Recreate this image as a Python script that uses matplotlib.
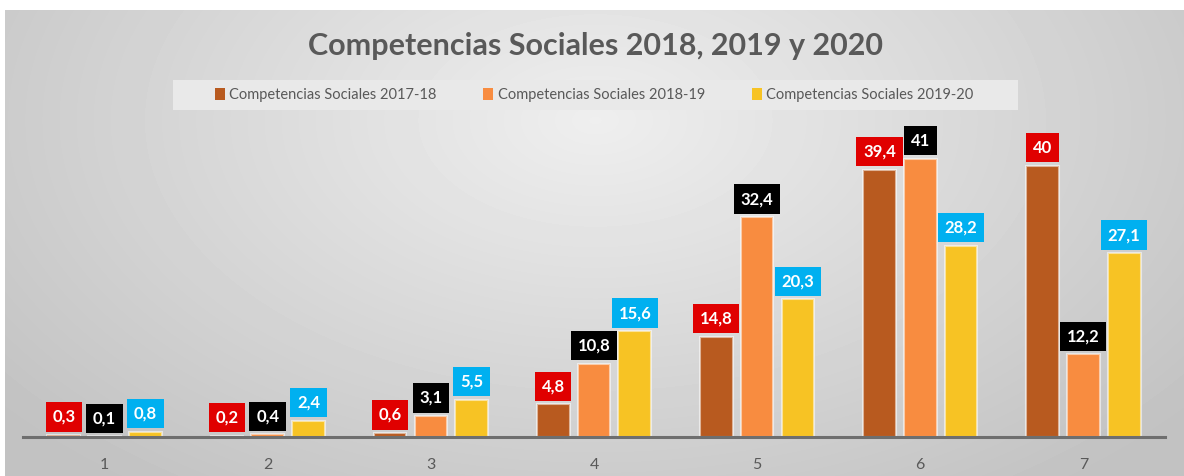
import numpy as np
import matplotlib.pyplot as plt
from matplotlib.patches import Rectangle

plt.rcParams['font.family'] = ['Lato', 'DejaVu Sans']

categories = ['1', '2', '3', '4', '5', '6', '7']
series_names = ['Competencias Sociales 2017-18',
                'Competencias Sociales 2018-19',
                'Competencias Sociales 2019-20']
values_1718 = [0.3, 0.2, 0.6, 4.8, 14.8, 39.4, 40]
values_1819 = [0.1, 0.4, 3.1, 10.8, 32.4, 41, 12.2]
values_1920 = [0.8, 2.4, 5.5, 15.6, 20.3, 28.2, 27.1]

bar_colors = ['#B85A1F', '#F88C40', '#F7C324']
label_colors = ['#E00000', '#000000', '#00B0F0']
TEXT = '#595959'

W, H = 1184, 476
fig = plt.figure(figsize=(W / 100, H / 100), dpi=100)
fig.patch.set_facecolor('white')

# radial grey background of the chart area
bg = fig.add_axes([5 / W, 0, 1 - 5 / W, 1 - 10 / H], zorder=-10)
yy, xx = np.mgrid[0:466, 0:1179]
r = np.sqrt(((xx - 590) / 700.0) ** 2 + ((yy - 110) / 420.0) ** 2)
shade = np.clip(0.935 - 0.16 * r, 0.76, 0.94)
bg.imshow(shade, cmap='gray', vmin=0, vmax=1, aspect='auto', interpolation='bilinear')
bg.axis('off')

# legend backdrop, a bit wider than the entries like in Excel
fig.patches.append(Rectangle((173 / W, 1 - 110 / H), 845 / W, 30 / H,
                             transform=fig.transFigure, fc='#E9E9E9', ec='none', zorder=-5))

ax = fig.add_axes([23 / W, 39 / H, 1142 / W, 327 / H])
ax.patch.set_alpha(0)

x = np.arange(1, len(categories) + 1)
width = 0.2
step = 0.25
series = [values_1718, values_1819, values_1920]
for i, vals in enumerate(series):
    pos = x + (i - 1) * step
    ax.bar(pos, vals, width, color=bar_colors[i], edgecolor=(1, 1, 1, 0.55),
           linewidth=1.5, label=series_names[i], zorder=3)
    for px, v in zip(pos, vals):
        ax.annotate(f"{v:g}".replace('.', ','), (px, v), xytext=(0, 13),
                    textcoords='offset points', ha='center', va='center',
                    fontsize=12, fontweight='bold', color='white', zorder=5,
                    bbox=dict(boxstyle='square,pad=0.4', fc=label_colors[i], ec='none'))

ax.set_xlim(0.5, 7.5)
ax.set_ylim(0, 48.2)
ax.set_xticks(x)
ax.set_xticklabels(categories, fontsize=11.5, color=TEXT)
ax.tick_params(axis='x', length=0, pad=15)
ax.set_yticks([])
for s in ['top', 'right', 'left']:
    ax.spines[s].set_visible(False)
ax.spines['bottom'].set_color('#6E6E6E')
ax.spines['bottom'].set_linewidth(2.2)
ax.spines['bottom'].set_zorder(4)

fig.text(595 / W, 1 - 46 / H, 'Competencias Sociales 2018, 2019 y 2020',
         ha='center', va='center', fontsize=22, fontweight='bold', color=TEXT)

leg = fig.legend(loc='center', bbox_to_anchor=(594 / W, 1 - 95 / H), ncol=3,
                 frameon=False, fontsize=10.5, handlelength=0.7, handleheight=0.9,
                 handletextpad=0.3, columnspacing=3.2)
for t in leg.get_texts():
    t.set_color(TEXT)
for h in leg.legend_handles:
    h.set_edgecolor('none')

fig.savefig('out.png', dpi=100)
